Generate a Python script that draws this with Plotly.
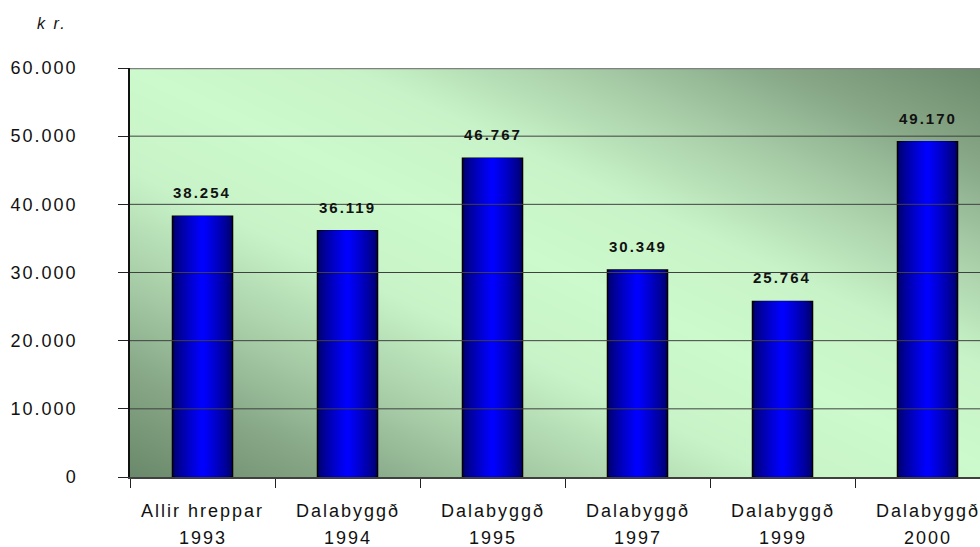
import plotly.graph_objects as go
import numpy as np

cat_names = ["Allir hreppar", "Dalabyggð", "Dalabyggð", "Dalabyggð", "Dalabyggð", "Dalabyggð"]
cat_years = ["1993", "1994", "1995", "1997", "1999", "2000"]
values = [38254, 36119, 46767, 30349, 25764, 49170]
y_ticks = [0, 10000, 20000, 30000, 40000, 50000, 60000]
unit_label = "k r."

n = len(cat_names)
xs = list(range(n))
FONT = "Liberation Sans, Arial, sans-serif"
TXT = "#111111"

fig = go.Figure()

# background diagonal gradient (heatmap under everything)
gx = np.linspace(-0.5, n - 0.5, 90)
gy = np.linspace(0, y_ticks[-1], 60)
U = (gx + 0.5) / n
V = gy / y_ticks[-1]
Z = np.abs(U[None, :] + V[:, None] - 1.0)
fig.add_trace(go.Heatmap(
    x=gx, y=gy, z=Z, zsmooth="best", showscale=False, hoverinfo="skip",
    zmin=0, zmax=1,
    colorscale=[[0, "#ccfacc"], [0.25, "#c8f3c8"], [0.5, "#a9cfa9"],
                [0.75, "#86a686"], [1, "#6a896a"]],
))

# gridlines
gxl, gyl = [], []
for t in y_ticks[1:-1]:
    gxl += [-0.5, n - 0.5, None]
    gyl += [t, t, None]
fig.add_trace(go.Scatter(x=gxl, y=gyl, mode="lines", hoverinfo="skip",
                         line=dict(color="#404040", width=1), showlegend=False))
fig.add_trace(go.Scatter(x=[-0.5, n - 0.5], y=[y_ticks[-1]] * 2,
                         mode="lines", hoverinfo="skip",
                         line=dict(color="#808080", width=2.5), showlegend=False))

# bars with horizontal gradient via nested overlaid bars
bar_w = 0.414
n_layers = 14
c0 = np.array([0, 0, 110])
c1 = np.array([0, 0, 255])
for k in range(n_layers):
    f = k / (n_layers - 1)
    w = bar_w * (1 - 0.93 * f)
    c = c0 + (c1 - c0) * (f ** 0.8)
    col = "rgb(%d,%d,%d)" % tuple(c)
    fig.add_trace(go.Bar(
        x=xs, y=values, width=w, marker_color=col,
        marker_line=dict(color="#000000", width=1.5 if k == 0 else 0),
        showlegend=False, hoverinfo="skip",
    ))

# value labels
for x, v in zip(xs, values):
    fig.add_annotation(x=x, y=v, text=f"{v:,}".replace(",", "."), showarrow=False,
                       yanchor="bottom", yshift=13,
                       font=dict(family=FONT, size=15, color=TXT, weight="bold"))

# category labels (two lines)
for x, nm, yr in zip(xs, cat_names, cat_years):
    fig.add_annotation(x=x, xref="x", yref="paper", y=-0.083, text=nm, showarrow=False,
                       yanchor="middle", font=dict(family=FONT, size=18, color=TXT))
    fig.add_annotation(x=x, xref="x", yref="paper", y=-0.149, text=yr, showarrow=False,
                       yanchor="middle", font=dict(family=FONT, size=18, color=TXT))

fig.add_annotation(xref="paper", yref="paper", x=-0.107, y=1.1076, xanchor="left",
                   yanchor="middle", text=f"<i>{unit_label}</i>", showarrow=False,
                   font=dict(family=FONT, size=16, color=TXT))

fig.update_layout(
    width=980, height=547,
    margin=dict(l=130, r=0, t=68, b=70),
    paper_bgcolor="white", plot_bgcolor="white",
    barmode="overlay", separators=",.",
    showlegend=False,
    font=dict(family=FONT, size=18, color=TXT),
    xaxis=dict(range=[-0.5, -0.5 + (980 - 130) / 145], tickvals=xs,
               showticklabels=False, ticks="", showgrid=False, zeroline=False,
               showline=True, linecolor="#404040", linewidth=1.5,
               minor=dict(tick0=-0.5, dtick=1, ticks="outside", ticklen=9,
                          tickcolor="#222222", tickwidth=1, showgrid=False),
               fixedrange=True),
    yaxis=dict(range=[0, y_ticks[-1]], tickvals=y_ticks, tickformat=",d",
               ticks="outside", ticklen=10, tickcolor="#222222",
               showgrid=False, zeroline=False,
               showline=True, linecolor="#111111", linewidth=1.5,
               ticklabelstandoff=37, fixedrange=True),
)

post = """
var s = document.createElement('style');
s.innerHTML = 'html, body { margin: 0; padding: 0; overflow: hidden; } '
            + '.ytick text, .annotation-text { letter-spacing: 2px; }';
document.head.appendChild(s);
"""
fig.write_html("out.html", post_script=post, config={"displayModeBar": False})
